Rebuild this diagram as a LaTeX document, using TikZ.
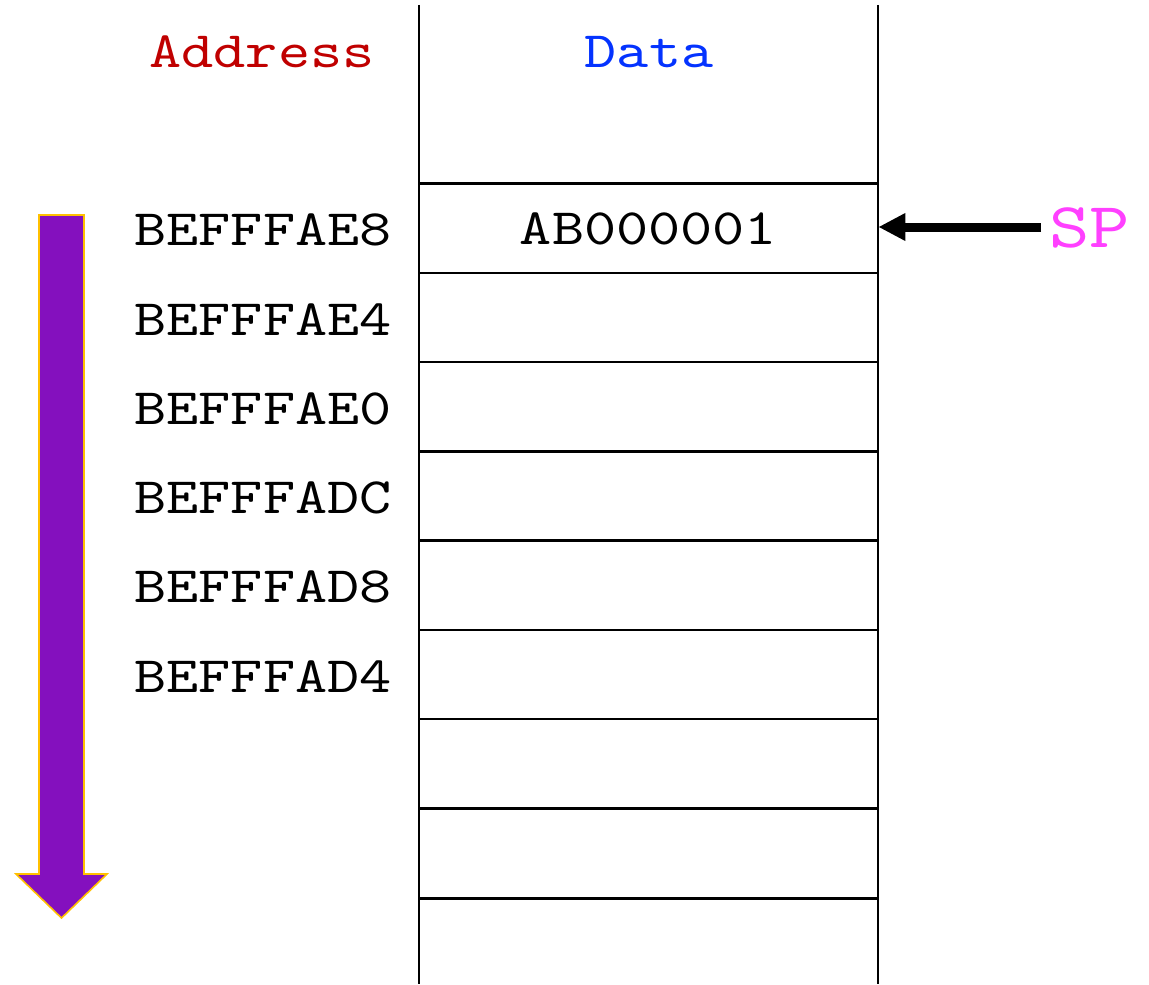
\documentclass[tikz,border=0pt]{standalone}
\usepackage{fontspec}
\newfontfamily\memfont[FakeStretch=1.2]{lmmono10-regular.otf}
\usepackage{xcolor}
\usetikzlibrary{arrows.meta, positioning, calc}

\definecolor{addrred}{RGB}{192,0,0}
\definecolor{datablue}{RGB}{4,51,255}
\definecolor{spmagenta}{RGB}{255,64,255}
\definecolor{growpurple}{RGB}{132,16,190}
\definecolor{growgold}{RGB}{255,192,0}

\tikzset{
    cell/.style={minimum width=229.5pt, minimum height=44.625pt, inner sep=0pt},
    addr/.style={font=\memfont\fontsize{25.5}{30}\selectfont, inner sep=0pt},
    grid/.style={line width=1.25pt},
}

\begin{document}
\begin{tikzpicture}[>=Stealth, line cap=butt, line join=miter, x=0.5pt, y=-0.5pt]

    \useasboundingbox (0,0) rectangle (1149,984);

    % Stack walls
    \draw[grid] (419,5) -- (419,984);
    \draw[grid] (878,5) -- (878,984);

    % Column headers
    \node[addr, text=addrred] (addrhead) at (262,52) {Address};
    \node[addr, text=datablue] (datahead) at (649,52) {Data};

    % Stack slots
    \foreach \i in {1,...,8}{
        \node[cell] (slot\i) at (648.5, {228.6+89.25*(\i-1)}) {};
        \draw[grid] (slot\i.north west) -- (slot\i.north east);
    }
    \draw[grid] (slot8.south west) -- (slot8.south east);

    % Addresses, one per slot
    \foreach \i/\a in {1/BEFFFAE8, 2/BEFFFAE4, 3/BEFFFAE0,
                       4/BEFFFADC, 5/BEFFFAD8, 6/BEFFFAD4}{
        \node[addr] (addr\i) at (263, {230+89.25*(\i-1)}) {\a};
    }

    % Pushed value
    \node[addr] (val1) at (slot1) {AB000001};

    % Stack pointer
    \node[addr, font=\memfont\fontsize{32}{38}\selectfont, text=spmagenta,
          anchor=west] (sp) at (1049,228) {SP};
    \coordinate (spfrom) at (1041,227);
    \draw[line width=4.5pt, -{Triangle[length=13.5pt, width=13pt]}]
        (spfrom) -- (slot1.east |- spfrom);

    % Direction of growth
    \draw[fill=growpurple, draw=growgold, line width=0.8pt]
        (39,215) -- (84,215) -- (84,874) -- (107,874) -- (61.5,918)
        -- (16,874) -- (39,874) -- cycle;

\end{tikzpicture}
\end{document}
